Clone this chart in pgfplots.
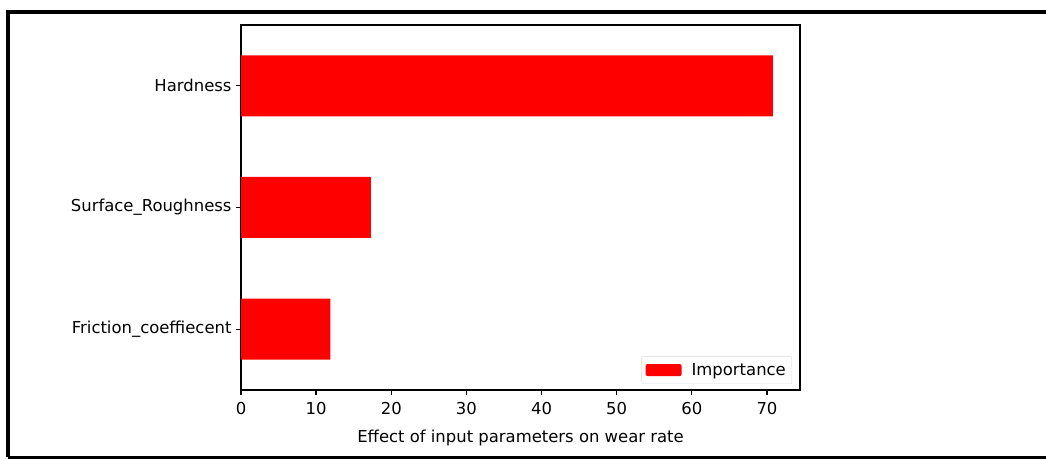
\documentclass[border=0pt]{standalone}
\usepackage{pgfplots}
\pgfplotsset{compat=1.18}
\usepackage{fontspec}
\setmainfont{DejaVu Sans}
\begin{document}
\begin{tikzpicture}[x=1bp,y=1bp]
\clip (0,0) rectangle (1046,459);
\fill[white] (0,0) rectangle (1046,459);
% outer frame of the figure
\draw[line width=4.5bp, black] (8,2) -- (8,447) -- (1060,447);
\draw[line width=3.5bp, black] (8,1.5) -- (1060,1.5);
\begin{axis}[
  at={(241bp,69bp)}, anchor=south west,
  scale only axis, width=559bp, height=365bp,
  xbar, bar width=61bp,
  xmin=0, xmax=74.4, ymin=-0.5, ymax=2.5,
  ytick={0,1,2},
  yticklabels={Friction\_coeffiecent, Surface\_Roughness, Hardness},
  xtick={0,10,...,70},
  tick align=outside, tick pos=left,
  major tick length=5bp,
  every tick/.style={black, line width=1.3bp},
  axis line style={line width=1.6bp, black},
  font=\fontsize{16.5}{19}\selectfont,
  /pgf/number format/assume math mode=true,
  xticklabel style={font=\fontsize{16.5}{19}\selectfont, yshift=-4bp},
  yticklabel style={font=\fontsize{16.5}{19}\selectfont, xshift=-1bp},
  xlabel={Effect of input parameters on wear rate},
  xlabel style={font=\fontsize{16.5}{19}\selectfont, yshift=-8bp},
  legend style={at={(1,0)}, anchor=south east, xshift=-8bp, yshift=6bp,
    draw=gray!30, rounded corners=2bp, font=\fontsize{16.5}{19}\selectfont,
    inner xsep=4bp, inner ysep=5bp, column sep=8bp},
  legend image code/.code={\fill[red] (0bp,-6bp) rectangle (36bp,6bp);},
]
\addplot[fill=red, draw=none] coordinates {(11.9,0) (17.3,1) (70.8,2)};
\addlegendentry{Importance}
\end{axis}
\end{tikzpicture}
\end{document}
